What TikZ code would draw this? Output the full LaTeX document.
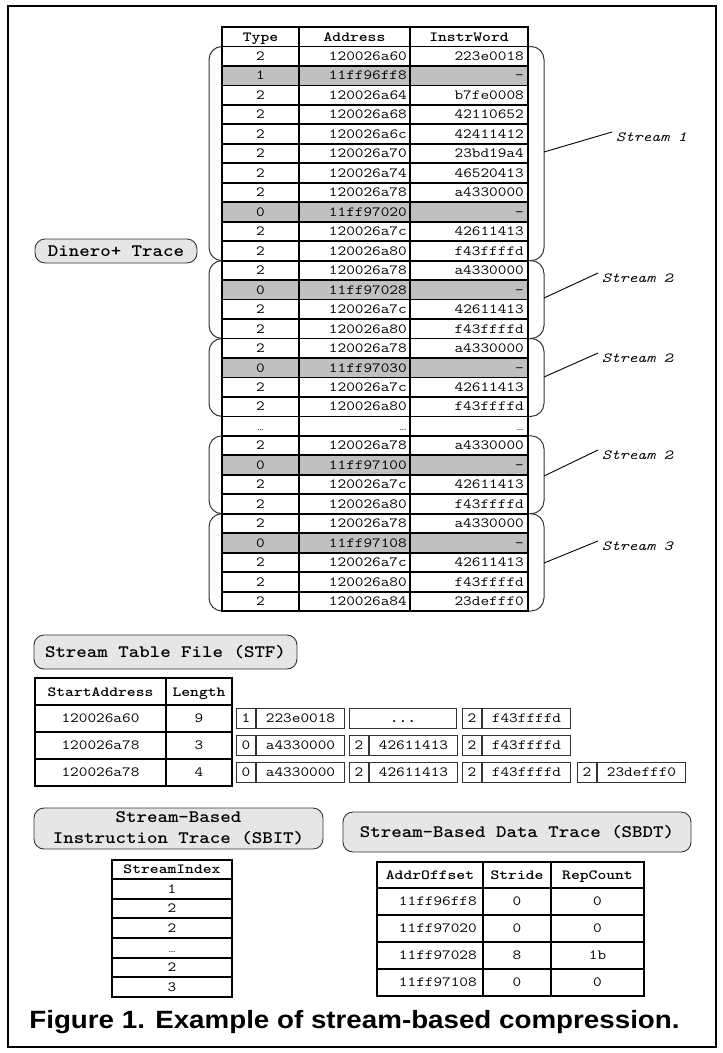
\documentclass[tikz,border=0pt]{standalone}
\usepackage{fontspec}
\usepackage{graphicx}
\newfontfamily\capfont{Liberation Sans}
\newcommand{\sx}[1]{\scalebox{1.2}[1]{#1}}
\newcommand{\lx}[1]{\scalebox{1.14}[1]{#1}}
\newcommand{\dts}{{\rmfamily\fontsize{9}{9}\selectfont\textellipsis}}
\definecolor{rowgray}{HTML}{C0C0C0}
\definecolor{lblfill}{HTML}{E6E6E6}
\definecolor{lblline}{HTML}{333333}
\definecolor{brkcol}{HTML}{333333}
\definecolor{boxcol}{HTML}{333333}
\begin{document}
\begin{tikzpicture}[x=1pt,y=-1pt,
  dat/.style={font=\ttfamily\fontsize{14}{16}\selectfont, inner sep=0pt},
  hdr/.style={font=\ttfamily\bfseries\fontsize{14}{16}\selectfont, inner sep=0pt},
  lbl/.style={draw=lblline, fill=lblfill, line width=0.9, rounded corners=10,
    font=\ttfamily\bfseries\fontsize{17.5}{21}\selectfont, inner sep=0pt, align=center},
  strm/.style={font=\ttfamily\itshape\fontsize{14}{16}\selectfont, inner sep=0pt, anchor=west},
  lead/.style={draw=black, line width=0.9},
  brk/.style={draw=brkcol, line width=1, rounded corners=13},
  grid/.style={line width=1.8},
  thin/.style={line width=1.2},
  cellbox/.style={draw=boxcol, line width=1, inner sep=0pt, minimum height=20,
    anchor=west, text height=8.5pt, text depth=0pt,
    font=\ttfamily\fontsize{14}{16}\selectfont},
  capt/.style={font=\capfont\bfseries\fontsize{25}{30}\selectfont, inner sep=0pt}
]
\useasboundingbox (0,0) rectangle (723,1053);
% outer frame
\draw[line width=2.5] (8,6) rectangle (716,1047);

% ---------- Dinero+ trace table ----------
\foreach \ya/\yb in {46.5/260.6, 260.6/338.5, 338.5/416.4, 435.8/513.7, 513.7/611}
  \draw[brk] (209,\ya) rectangle (544,\yb);
\fill[white] (222,27) rectangle (528,611);
\foreach \k in {2,9,13,17,22,26}
  \fill[rowgray] (222,{27+\k*19.47}) rectangle (528,{27+(\k+1)*19.47});
\draw[grid] (222,27) rectangle (528,611);
\foreach \k in {1,...,29}
  \draw[grid] (222,{27+\k*19.47}) -- (528,{27+\k*19.47});
\foreach \xx in {299,410}
  \draw[grid] (\xx,27) -- (\xx,611);

\node[hdr, anchor=base] (hType) at (260.5,41) {\sx{Type}};
\node[hdr, anchor=base] (hAddr) at (354.5,41) {\sx{Address}};
\node[hdr, anchor=base] (hWord) at (469,41) {\sx{InstrWord}};

\foreach \k/\tA/\aA/\wA in {
  1/2/120026a60/223e0018, 2/1/11ff96ff8/-, 3/2/120026a64/b7fe0008,
  4/2/120026a68/42110652, 5/2/120026a6c/42411412, 6/2/120026a70/23bd19a4,
  7/2/120026a74/46520413, 8/2/120026a78/a4330000, 9/0/11ff97020/-,
  10/2/120026a7c/42611413, 11/2/120026a80/f43ffffd,
  12/2/120026a78/a4330000, 13/0/11ff97028/-, 14/2/120026a7c/42611413, 15/2/120026a80/f43ffffd,
  16/2/120026a78/a4330000, 17/0/11ff97030/-, 18/2/120026a7c/42611413, 19/2/120026a80/f43ffffd,
  20/\dts/\dts/\dts,
  21/2/120026a78/a4330000, 22/0/11ff97100/-, 23/2/120026a7c/42611413, 24/2/120026a80/f43ffffd,
  25/2/120026a78/a4330000, 26/0/11ff97108/-, 27/2/120026a7c/42611413, 28/2/120026a80/f43ffffd,
  29/2/120026a84/23defff0}{
  \pgfmathsetmacro\yb{27+(\k+0.5)*19.47+4.3}
  \node[dat, anchor=base] (ty\k) at (260.5,\yb) {\sx{\tA}};
  \node[dat, anchor=base east] (ad\k) at (407,\yb) {\sx{\aA}};
  \node[dat, anchor=base east] (iw\k) at (524,\yb) {\sx{\wA}};
}

% stream labels
\node[strm] (s1) at (616,137) {\sx{Stream 1}};
\node[strm] (s2a) at (602,278) {\sx{Stream 2}};
\node[strm] (s2b) at (602,358) {\sx{Stream 2}};
\node[strm] (s2c) at (602,455) {\sx{Stream 2}};
\node[strm] (s3) at (602,546) {\sx{Stream 3}};
\coordinate (b1) at (544,152);
\coordinate (b2a) at (544,298);
\coordinate (b2b) at (544,377);
\coordinate (b2c) at (544,476);
\coordinate (b3) at (544,563);
\foreach \s in {1,2a,2b,2c,3}
  \draw[lead] (b\s) -- ([xshift=-4pt,yshift=5pt]s\s.west);

\node[lbl, minimum width=162, minimum height=24] (dinero) at (116,251) {\lx{Dinero+ Trace}};

% ---------- Stream table file ----------
\node[lbl, minimum width=263, minimum height=34] (stf) at (165.5,652) {\lx{Stream Table File (STF)}};
\draw[thin] (35,678) rectangle (232,786);
\foreach \yy in {705,732,759} \draw[thin] (35,\yy) -- (232,\yy);
\draw[thin] (166,678) -- (166,786);
\node[hdr, anchor=base] (hSA) at (100.5,696) {\sx{StartAddress}};
\node[hdr, anchor=base] (hLen) at (199,696) {\sx{Length}};
\foreach \rr/\yc/\sA/\lN in {1/718.5/120026a60/9, 2/745.5/120026a78/3, 3/772.5/120026a78/4}{
  \node[dat, anchor=base] (sa\rr) at (100.5,\yc+4.3) {\sx{\sA}};
  \node[dat, anchor=base] (ln\rr) at (199,\yc+4.3) {\sx{\lN}};
}
\foreach \bi/\xa/\yc/\tP/\wW in {
  a/236/718.5/1/223e0018, b/462/718.5/2/f43ffffd,
  c/236/745.5/0/a4330000, d/349/745.5/2/42611413, e/462/745.5/2/f43ffffd,
  f/236/772.5/0/a4330000, g/349/772.5/2/42611413, h/462/772.5/2/f43ffffd, k/577/772.5/2/23defff0}{
  \node[cellbox, minimum width=19] (bt\bi) at (\xa,\yc) {\sx{\tP}};
  \node[cellbox, minimum width=88] (bw\bi) at (bt\bi.east) {\sx{\wW}};
}
\node[cellbox, minimum width=107, font=\ttfamily\bfseries\fontsize{14}{16}\selectfont] (bdots) at (349,718.5) {\sx{...}};

% ---------- SBIT ----------
\node[lbl, minimum width=289, minimum height=41] (sbit) at (178.5,828.5)
  {\lx{Stream-Based}\\\lx{Instruction Trace (SBIT)}};
\draw[grid] (112,860) rectangle (232,997);
\foreach \yy in {879,898.7,918.3,938,957.7,977.3} \draw[grid] (112,\yy) -- (232,\yy);
\node[hdr, anchor=base] (hSI) at (172,873.8) {\sx{StreamIndex}};
\foreach \rr/\yc/\vV in {1/888.8/1, 2/908.5/2, 3/928.2/2, 4/947.8/\dts, 5/967.5/2, 6/987.2/3}
  \node[dat, anchor=base] (si\rr) at (172,\yc+4.3) {\sx{\vV}};

% ---------- SBDT ----------
\node[lbl, minimum width=348, minimum height=40] (sbdt) at (517,832) {\lx{Stream-Based Data Trace (SBDT)}};
\draw[thin] (377,862) rectangle (644,996);
\foreach \yy in {888,915,942,969} \draw[thin] (377,\yy) -- (644,\yy);
\foreach \xx in {483,551} \draw[thin] (\xx,862) -- (\xx,996);
\node[hdr, anchor=base] (hAO) at (430,879.3) {\sx{AddrOffset}};
\node[hdr, anchor=base] (hSt) at (517,879.3) {\sx{Stride}};
\node[hdr, anchor=base] (hRC) at (597.5,879.3) {\sx{RepCount}};
\foreach \rr/\yc/\aO/\sT/\rC in {1/901.5/11ff96ff8/0/0, 2/928.5/11ff97020/0/0,
  3/955.5/11ff97028/8/1b, 4/982.5/11ff97108/0/0}{
  \node[dat, anchor=base east] (ao\rr) at (477,\yc+4.3) {\sx{\aO}};
  \node[dat, anchor=base] (st\rr) at (517,\yc+4.3) {\sx{\sT}};
  \node[dat, anchor=base] (rc\rr) at (597.5,\yc+4.3) {\sx{\rC}};
}

% ---------- caption ----------
\node[capt, anchor=base] (cap) at (354.5,1028)
  {\scalebox{1.11}[1]{Figure 1. Example of stream-based compression.}};
\end{tikzpicture}
\end{document}
